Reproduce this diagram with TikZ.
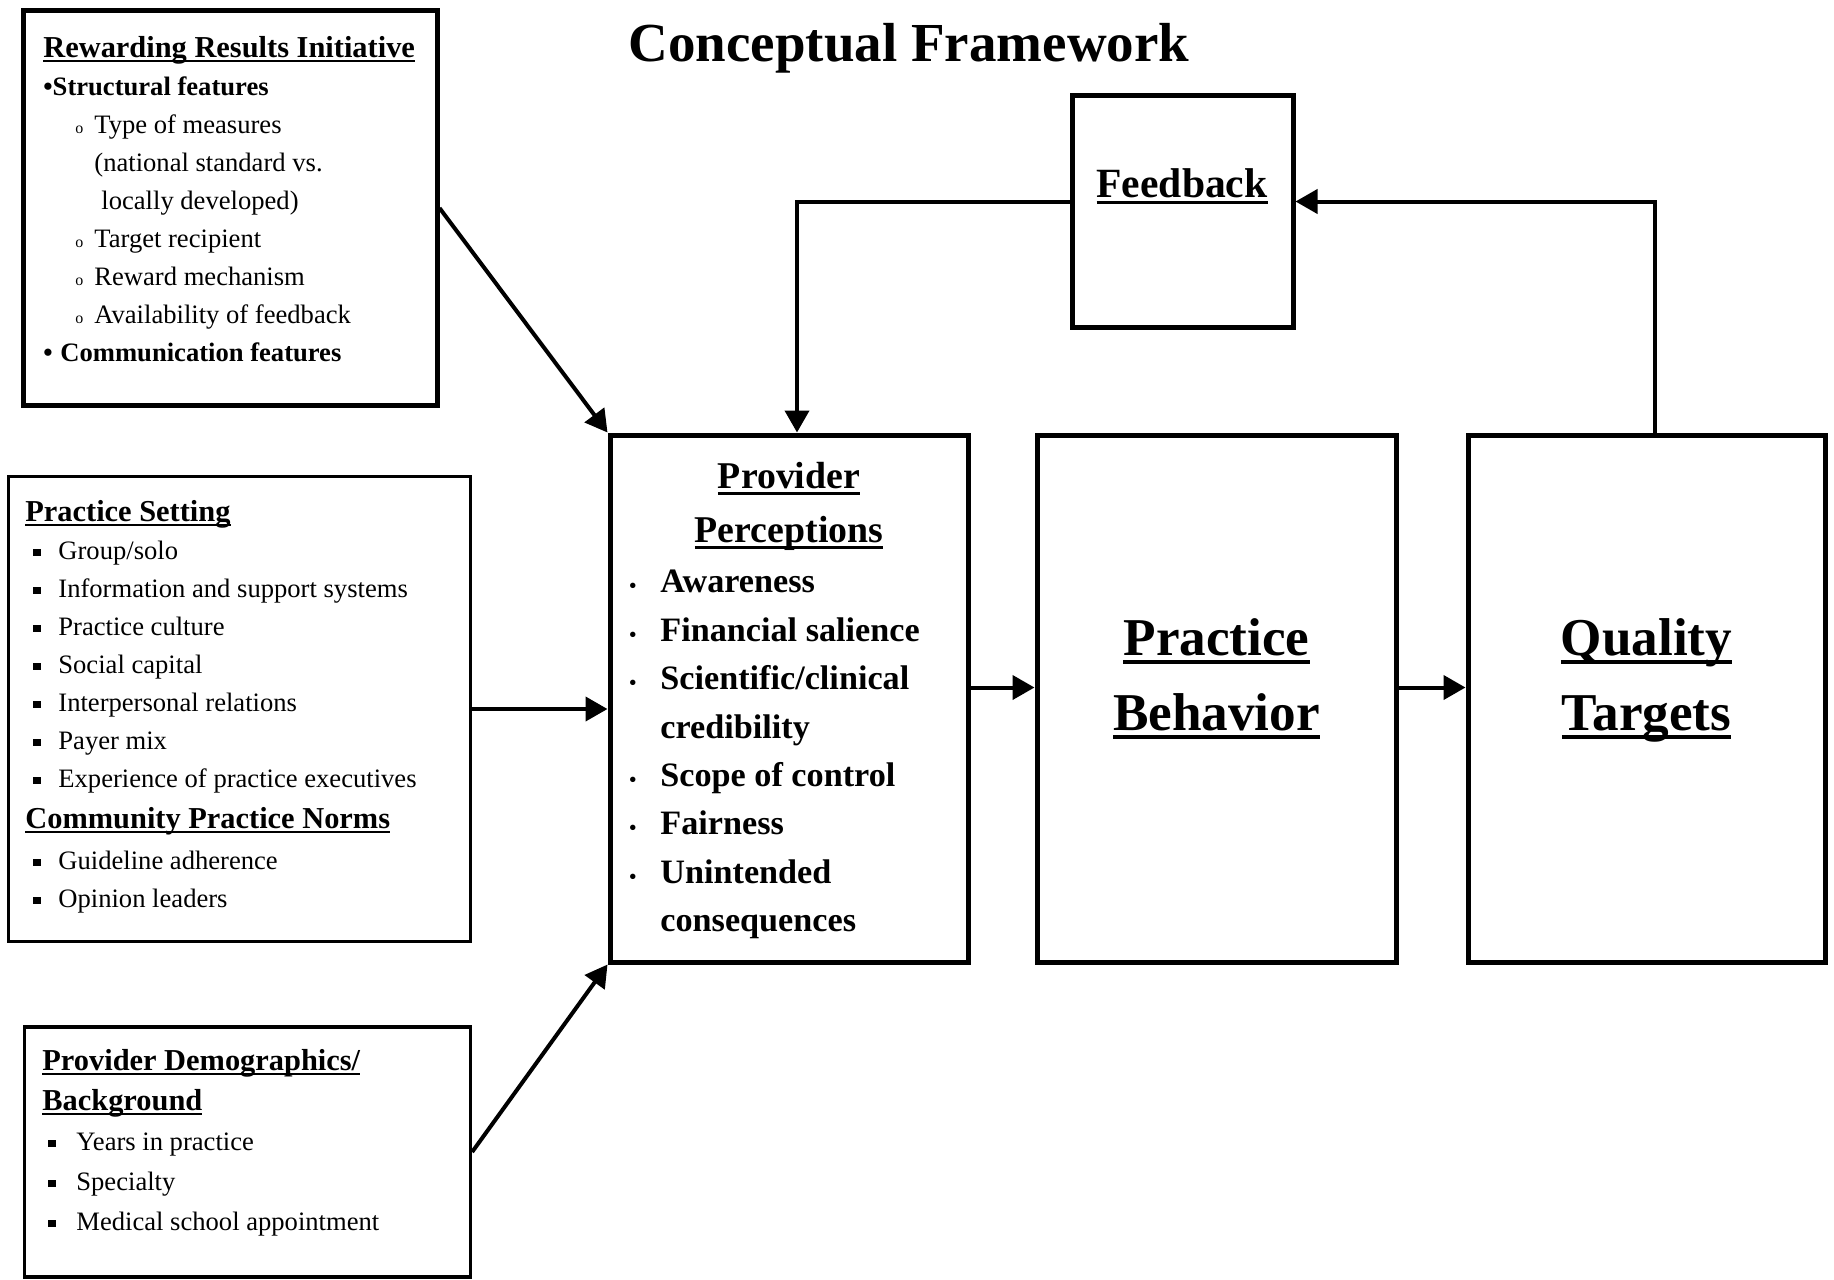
\documentclass[tikz,border=0pt]{standalone}
\usepackage{fontspec}
\setmainfont{Liberation Serif}
\usetikzlibrary{arrows.meta}
% thick underline for the headings
\newcommand\hdul[1]{\setbox0\hbox{#1}\rlap{\rule[-0.16em]{\wd0}{0.075em}}\box0}
\newcommand\hdfont{\fontsize{15.2}{19}\selectfont\bfseries}
\newcommand\sqbul{\rule[0.14em]{0.27em}{0.27em}}
\newcommand\obul{{\fontsize{8}{8}\selectfont o}}
\newcommand\dotbul{{\fontsize{10}{10}\selectfont\textbullet}}
\begin{document}
\begin{tikzpicture}[x=0.5pt,y=-0.5pt,
  box/.style={draw,line width=2.5pt,inner sep=0pt},
  thinbox/.style={draw,line width=1.6pt,inner sep=0pt},
  txt/.style={inner sep=0pt,align=left,anchor=north west,font=\fontsize{13.3}{19}\selectfont},
  arr/.style={line width=2pt,-{Triangle[length=11pt,width=12pt]}}]
\useasboundingbox (0,0) rectangle (1834,1279);
\node[anchor=north,inner sep=0pt,font=\fontsize{27.5}{33}\selectfont\bfseries] (title) at (909,23) {Conceptual Framework};
% input boxes left
\node[box,minimum width=207pt,minimum height=197pt] (rri) at (230,208) {};
\node[txt] (rritxt) at (43,36) {{\hdfont\hdul{Rewarding Results Initiative}}\\
  {\bfseries\textbullet Structural features}\\
  \hspace*{16pt}\makebox[9.5pt][l]{\obul}Type of measures\\
  \hspace*{25.5pt}(national standard vs.\\
  \hspace*{29pt}locally developed)\\
  \hspace*{16pt}\makebox[9.5pt][l]{\obul}Target recipient\\
  \hspace*{16pt}\makebox[9.5pt][l]{\obul}Reward mechanism\\
  \hspace*{16pt}\makebox[9.5pt][l]{\obul}Availability of feedback\\
  {\bfseries\makebox[8.5pt][l]{\textbullet}Communication features}};
\node[thinbox,minimum width=231pt,minimum height=232.5pt] (ps) at (239.5,709) {};
\node[txt] (pstxt) at (25,500) {{\hdfont\hdul{Practice Setting}}\\
  \hspace*{4pt}\makebox[12.5pt][l]{\sqbul}Group/solo\\
  \hspace*{4pt}\makebox[12.5pt][l]{\sqbul}Information and support systems\\
  \hspace*{4pt}\makebox[12.5pt][l]{\sqbul}Practice culture\\
  \hspace*{4pt}\makebox[12.5pt][l]{\sqbul}Social capital\\
  \hspace*{4pt}\makebox[12.5pt][l]{\sqbul}Interpersonal relations\\
  \hspace*{4pt}\makebox[12.5pt][l]{\sqbul}Payer mix\\
  \hspace*{4pt}\makebox[12.5pt][l]{\sqbul}Experience of practice executives\\[1.5pt]
  {\hdfont\hdul{Community Practice Norms}}\\[1.5pt]
  \hspace*{4pt}\makebox[12.5pt][l]{\sqbul}Guideline adherence\\
  \hspace*{4pt}\makebox[12.5pt][l]{\sqbul}Opinion leaders};
\node[thinbox,minimum width=223pt,minimum height=125pt] (pd) at (247.5,1152) {};
\node[txt,font=\fontsize{13.3}{20}\selectfont] (pdtxt) at (42,1049) {{\hdfont\hdul{Provider Demographics/}}\\
  {\hdfont\hdul{Background}}\\
  \hspace*{3pt}\makebox[14pt][l]{\sqbul}Years in practice\\
  \hspace*{3pt}\makebox[14pt][l]{\sqbul}Specialty\\
  \hspace*{3pt}\makebox[14pt][l]{\sqbul}Medical school appointment};
% main chain
\node[box,minimum width=179pt,minimum height=263.5pt] (pp) at (789,698.5) {};
\node[inner sep=0pt,anchor=north,align=center,font=\fontsize{18.9}{27}\selectfont\bfseries] (pphead) at (789,462) {\hdul{Provider}\\\hdul{Perceptions}};
\node[txt,font=\fontsize{17.1}{24.2}\selectfont\bfseries] (pplist) at (629,570) {\makebox[15.5pt][l]{\dotbul}Awareness\\
  \makebox[15.5pt][l]{\dotbul}Financial salience\\
  \makebox[15.5pt][l]{\dotbul}Scientific/clinical\\
  \hspace*{15.5pt}credibility\\
  \makebox[15.5pt][l]{\dotbul}Scope of control\\
  \makebox[15.5pt][l]{\dotbul}Fairness\\
  \makebox[15.5pt][l]{\dotbul}Unintended\\
  \hspace*{15.5pt}consequences};
\node[box,minimum width=179.5pt,minimum height=263.5pt] (pb) at (1216.5,698.5) {};
\node[inner sep=0pt,anchor=north,align=center,font=\fontsize{26.6}{37.5}\selectfont\bfseries] (pbtxt) at (1216.5,618) {\hdul{Practice}\\\hdul{Behavior}};
\node[box,minimum width=178.5pt,minimum height=263.5pt] (qt) at (1646.5,698.5) {};
\node[inner sep=0pt,anchor=north,align=center,font=\fontsize{26.6}{37.5}\selectfont\bfseries] (qttxt) at (1646.5,618) {\hdul{Quality}\\\hdul{Targets}};
% feedback loop
\node[box,minimum width=110.5pt,minimum height=115.5pt] (fb) at (1182.5,211.5) {};
\node[inner sep=0pt,anchor=north,font=\fontsize{20.8}{25}\selectfont\bfseries] (fbtxt) at (1182,168) {\hdul{Feedback}};
\draw[arr] (rri.east) -- (pp.north west);
\draw[arr] (ps.east) -- (ps.east -| pp.west);
\draw[arr] (pd.east) -- (pp.south west);
\draw[arr] ([yshift=5.5pt]pp.east) -- ([yshift=5.5pt]pb.west);
\draw[arr] ([yshift=5.5pt]pb.east) -- ([yshift=5.5pt]qt.west);
\draw[arr] ([xshift=4pt]qt.north) |- ([yshift=5pt]fb.east);
\draw[arr] ([yshift=5pt]fb.west) -| ([xshift=4pt]pp.north);
\end{tikzpicture}
\end{document}
